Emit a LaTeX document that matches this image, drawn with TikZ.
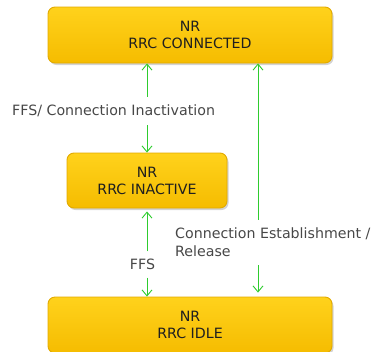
\documentclass[tikz,border=0pt]{standalone}
\usepackage{fontspec}
\setmainfont{DejaVu Sans}
\usetikzlibrary{arrows.meta,shadows}
\definecolor{rrctop}{HTML}{FFD21C}
\definecolor{rrcmid}{HTML}{FFCA00}
\definecolor{rrcbottom}{HTML}{F5BC00}
\definecolor{rrcedge}{HTML}{E2AA00}
\definecolor{rrcgreen}{HTML}{2ECC2E}

\begin{document}
\begin{tikzpicture}[x=1pt, y=-1pt,
    state/.style={draw=rrcedge, line width=0.9pt, rounded corners=7pt,
        top color=rrctop, middle color=rrcmid, bottom color=rrcbottom,
        drop shadow={shadow xshift=1.5pt, shadow yshift=-2pt, opacity=0.35},
        text=black!88, align=center, inner sep=0pt,
        font=\fontsize{14.2}{17}\selectfont},
    cause/.style={text=black!72, align=left, inner sep=0pt,
        font=\fontsize{14.2}{18}\selectfont},
    flow/.style={draw=rrcgreen, line width=0.9pt,
        -{Straight Barb[length=6pt, width=10pt]}}]
        \useasboundingbox (0,0) rectangle (374,351);

        % States
        \node[state, minimum width=284pt, minimum height=56pt] (connected) at (190, 35) {NR\\RRC CONNECTED};
        \node[state, minimum width=160pt, minimum height=55pt] (inactive) at (147, 180.5) {NR\\RRC INACTIVE};
        \node[state, minimum width=284pt, minimum height=56pt] (idle) at (190, 325) {NR\\RRC IDLE};

        % Labels
        \node[cause, anchor=west, minimum height=28pt] (ffsinact) at (12, 111) {FFS/ Connection Inactivation};
        \node[cause, minimum height=26pt] (ffs) at (142.5, 264.5) {FFS};
        \node[cause, anchor=west, minimum height=45pt] (estab) at (175, 242.5) {Connection Establishment /\\Release};
        \coordinate (rline) at (258, 0);

        % Transitions
        \draw[flow] (ffsinact.north -| inactive.north) -- (connected.south -| inactive.north);
        \draw[flow] (ffsinact.south -| inactive.north) -- (inactive.north);
        \draw[flow] (ffs.north -| inactive.south) -- ([yshift=-3pt]inactive.south);
        \draw[flow] (ffs.south -| inactive.south) -- (idle.north -| inactive.south);
        \draw[flow] (estab.north -| rline) -- (connected.south -| rline);
        \draw[flow] (estab.south -| rline) -- ([yshift=4pt]idle.north -| rline);
    \end{tikzpicture}
\end{document}
